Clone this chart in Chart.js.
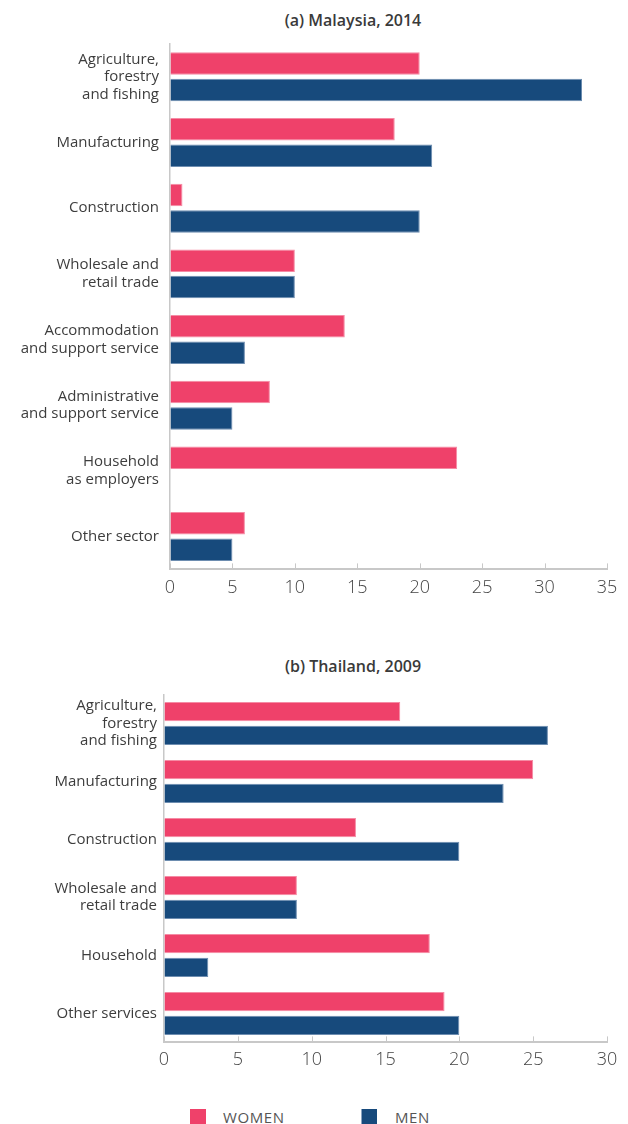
<!DOCTYPE html>
<html>
<head>
<meta charset="utf-8">
<title>Employment by sector and sex</title>
<script src="https://cdn.jsdelivr.net/npm/chart.js@4.4.1/dist/chart.umd.min.js"></script>
<style>
  body { margin: 0; background: #fff; width: 628px; height: 1124px; position: relative; overflow: hidden; font-family: 'Open Sans', sans-serif; }
  .panel { position: absolute; left: 0; width: 628px; }
  .title { position: absolute; left: 253px; width: 200px; text-align: center; font-weight: 600; font-size: 16px; line-height: 20px; color: #3a3a3a; }
  .key { position: absolute; top: 1109px; width: 16px; height: 16px; }
  .key-label { position: absolute; top: 1108px; line-height: 18px; font-size: 15px; letter-spacing: 0.6px; color: #555; }
</style>
</head>
<body>

<div class="title" style="top:10px">(a) Malaysia, 2014</div>
<div class="panel" style="top:0; height:610px"><canvas id="malaysia"></canvas></div>

<div class="title" style="top:656px">(b) Thailand, 2009</div>
<div class="panel" style="top:650px; height:431px"><canvas id="thailand"></canvas></div>

<div class="key" style="left:190px; background:#ef416a"></div>
<div class="key-label" style="left:223px">WOMEN</div>
<div class="key" style="left:361px; background:#174a7c; border-left:1px solid #8aa3c0; width:15px"></div>
<div class="key-label" style="left:395px">MEN</div>

<script>
// Malaysia, 2014
const malaysiaSectors = [
    ['Agriculture,', 'forestry', 'and fishing'],
    'Manufacturing',
    'Construction',
    ['Wholesale and', 'retail trade'],
    ['Accommodation', 'and support service'],
    ['Administrative', 'and support service'],
    ['Household', 'as employers'],
    'Other sector'
];
const malaysiaWomen = [20, 18, 1, 10, 14, 8, 23, 6];
const malaysiaMen = [33, 21, 20, 10, 6, 5, null, 5];
const malaysiaMax = 35;

// Thailand, 2009
const thailandSectors = [
    ['Agriculture,', 'forestry', 'and fishing'],
    'Manufacturing',
    'Construction',
    ['Wholesale and', 'retail trade'],
    'Household',
    'Other services'
];
const thailandWomen = [16, 25, 13, 9, 18, 19];
const thailandMen = [26, 23, 20, 9, 3, 20];
const thailandMax = 30;

const tickStep = 5;

const pink = '#ef416a';
const blue = '#174a7c';
const axisGrey = '#c8c8c8';

// short tick marks pointing up from the x axis into the plot
const innerTicks = {
    id: 'innerTicks',
    afterDatasetsDraw(chart) {
        const x = chart.scales.x;
        const ctx = chart.ctx;
        const bottom = chart.chartArea.bottom;
        ctx.save();
        ctx.strokeStyle = axisGrey;
        ctx.lineWidth = 1;
        x.ticks.forEach(t => {
            const px = Math.round(x.getPixelForValue(t.value)) + 0.5;
            ctx.beginPath();
            ctx.moveTo(px, bottom);
            ctx.lineTo(px, bottom - 6);
            ctx.stroke();
        });
        ctx.restore();
    }
};

function drawPanel(id, sectors, women, men, max, o) {
    return new Chart(document.getElementById(id), {
        type: 'bar',
        data: {
            labels: sectors,
            datasets: [
                { label: 'WOMEN', data: women, backgroundColor: pink, borderColor: '#f58ba4', borderWidth: 1 },
                { label: 'MEN', data: men, backgroundColor: blue, borderColor: '#6d8db0', borderWidth: 1 }
            ]
        },
        options: {
            indexAxis: 'y',
            responsive: true,
            maintainAspectRatio: false,
            animation: false,
            categoryPercentage: o.catPct,
            barPercentage: o.barPct,
            layout: { padding: { top: o.top, right: 21, bottom: 3, left: 0 } },
            scales: {
                x: {
                    min: 0,
                    max: max,
                    ticks: {
                        stepSize: tickStep,
                        padding: o.tickPad,
                        color: '#444',
                        font: { family: 'Open Sans', size: 18, weight: 300 }
                    },
                    grid: { drawOnChartArea: false, drawTicks: false },
                    border: { color: axisGrey, width: 2 }
                },
                y: {
                    afterFit(scale) { scale.width = o.axisX; },
                    ticks: {
                        padding: o.labelPad,
                        color: '#3d3d3d',
                        font: { family: 'Open Sans', size: 15, lineHeight: 1.17 }
                    },
                    grid: { display: false, drawTicks: false },
                    border: { color: axisGrey, width: 1.5 }
                }
            },
            plugins: {
                legend: { display: false },
                tooltip: { enabled: false }
            }
        },
        plugins: [innerTicks]
    });
}

drawPanel('malaysia', malaysiaSectors, malaysiaWomen, malaysiaMen, malaysiaMax,
    { top: 44, axisX: 170, labelPad: 11, tickPad: 8, catPct: 0.806, barPct: 0.85 });

drawPanel('thailand', thailandSectors, thailandWomen, thailandMen, thailandMax,
    { top: 44.5, axisX: 164, labelPad: 7, tickPad: 7, catPct: 0.82, barPct: 0.81 });
</script>
</body>
</html>
